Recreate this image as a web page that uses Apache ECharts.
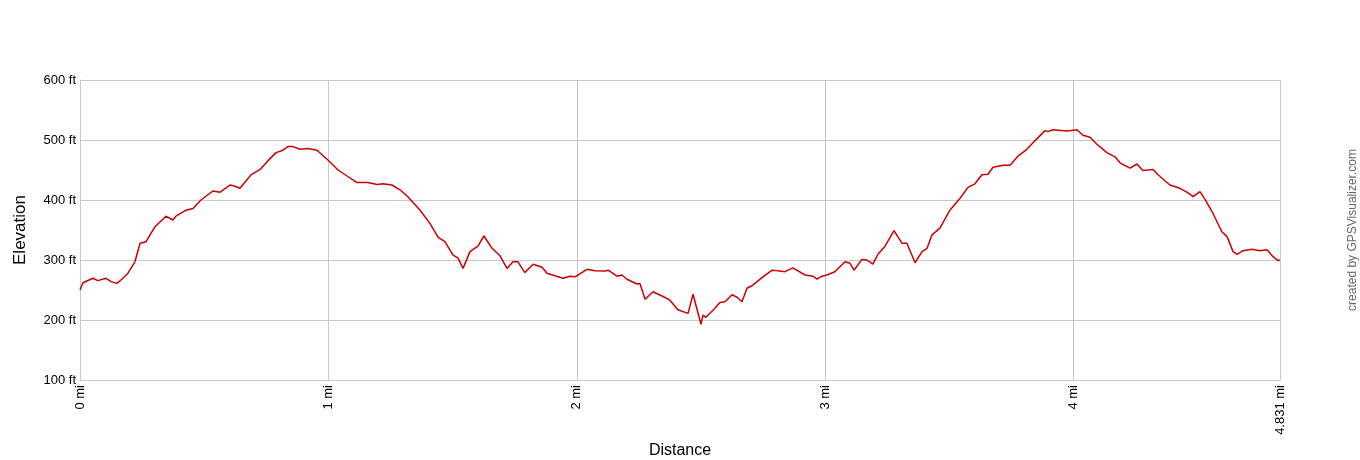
<!DOCTYPE html>
<html>
<head>
<meta charset="utf-8">
<script src="https://cdn.jsdelivr.net/npm/echarts@6/dist/echarts.min.js"></script>
<style>
html,body{margin:0;padding:0;background:#fff;}
#chart{width:1360px;height:460px;}
</style>
</head>
<body>
<div id="chart"></div>
<script>
const distanceMi = [0,0.012,0.052,0.072,0.105,0.125,0.149,0.165,0.193,0.221,0.242,0.266,0.302,0.346,0.374,0.386,0.427,0.455,0.487,0.535,0.564,0.604,0.624,0.644,0.688,0.725,0.757,0.789,0.817,0.837,0.857,0.886,0.918,0.954,0.998,1.039,1.075,1.115,1.159,1.196,1.220,1.256,1.288,1.320,1.369,1.409,1.441,1.469,1.502,1.522,1.542,1.570,1.602,1.626,1.659,1.691,1.719,1.743,1.763,1.791,1.824,1.860,1.880,1.944,1.973,1.993,2.041,2.073,2.114,2.126,2.162,2.182,2.202,2.242,2.254,2.275,2.307,2.343,2.375,2.407,2.448,2.468,2.500,2.508,2.520,2.556,2.576,2.597,2.625,2.645,2.665,2.685,2.705,2.738,2.786,2.810,2.838,2.870,2.919,2.951,2.967,2.987,3.007,3.039,3.080,3.100,3.116,3.148,3.168,3.192,3.213,3.241,3.277,3.309,3.329,3.362,3.390,3.410,3.430,3.462,3.502,3.543,3.575,3.603,3.631,3.655,3.676,3.716,3.744,3.776,3.812,3.845,3.885,3.897,3.917,3.973,4.014,4.038,4.066,4.094,4.134,4.167,4.187,4.227,4.255,4.279,4.300,4.320,4.340,4.368,4.388,4.428,4.461,4.481,4.509,4.529,4.561,4.597,4.618,4.642,4.658,4.682,4.718,4.750,4.779,4.803,4.823,4.831];
const elevationFt = [250,262,269.5,265.6,269.5,264,261,266.7,278,297,328,330.5,355.5,373,366.7,373,383,386,400,415,413,425,423,419.5,441.7,451,465.6,479,483,489,489,484.5,486,483,466.7,450,440,429,429,426,427,425,417,405.5,383,361,338,330.5,308,303,286,314,323,340,319.5,307,286,297,297,279,293,288,278,269.5,273,272,284.5,282,281.7,283,273,275,268,260,261,234.5,247,240,233,217,211,243,193,208,204.5,219.5,229,230.5,242,238,230.5,253,257,268,283,282,280.5,287,275,273,268,273,275,280.5,297,294.5,283,301,300,293,310,323,349,328,328,295.5,314,319.5,342,353,383,403,421,427,442,443,454.5,458,458,473,484.5,499,515.6,514,517,515,517,508,504.5,493,479,472,462,453,460,449,450,451,442,432,425,419.5,412,405.5,414,401,378,347,339,314,309.5,315.5,318,315.5,317,305.5,299,300];
const xUnit = ' mi';
const yUnit = ' ft';
const xName = 'Distance';
const yName = 'Elevation';
const credit = 'created by GPSVisualizer.com';

const seriesData = distanceMi.map((d, i) => [d, elevationFt[i]]);
const font = 'Arial, "Liberation Sans", sans-serif';

const chart = echarts.init(document.getElementById('chart'), null, {renderer: 'canvas'});
chart.setOption({
  animation: false,
  backgroundColor: '#fff',
  grid: {left: 80, right: 80, top: 80, bottom: 80, containLabel: false, outerBoundsMode: 'none'},
  xAxis: {
    type: 'value',
    min: 0, max: 4.831, interval: 1,
    name: xName, nameLocation: 'middle', nameGap: 60,
    nameTextStyle: {color: '#000', fontSize: 16, fontFamily: font},
    axisLine: {show: true, lineStyle: {color: '#c8c8c8', width: 1}},
    axisTick: {show: false},
    axisLabel: {
      rotate: 90, color: '#000', fontSize: 13, fontFamily: font, margin: 5,
      showMinLabel: true, showMaxLabel: true,
      formatter: v => (Math.round(v * 1000) / 1000) + xUnit
    },
    splitLine: {show: true, lineStyle: {color: '#c8c8c8', width: 1}}
  },
  yAxis: {
    type: 'value',
    min: 100, max: 600, interval: 100,
    name: yName, nameLocation: 'middle', nameGap: 51,
    nameTextStyle: {color: '#000', fontSize: 17, fontFamily: font},
    axisLine: {show: true, lineStyle: {color: '#c8c8c8', width: 1}},
    axisTick: {show: false},
    axisLabel: {color: '#000', fontSize: 13, fontFamily: font, margin: 4,
      formatter: v => v + yUnit},
    splitLine: {show: true, lineStyle: {color: '#c8c8c8', width: 1}}
  },
  graphic: [{
    type: 'text',
    x: 1353, y: 230,
    rotation: Math.PI / 2,
    style: {text: credit, fill: '#666', fontSize: 12, fontFamily: font,
      textAlign: 'center', textVerticalAlign: 'middle'}
  }],
  series: [{
    type: 'line',
    data: seriesData,
    showSymbol: false,
    symbol: 'none',
    lineStyle: {color: '#cc0000', width: 1.5},
    silent: true
  }]
});
</script>
</body>
</html>
